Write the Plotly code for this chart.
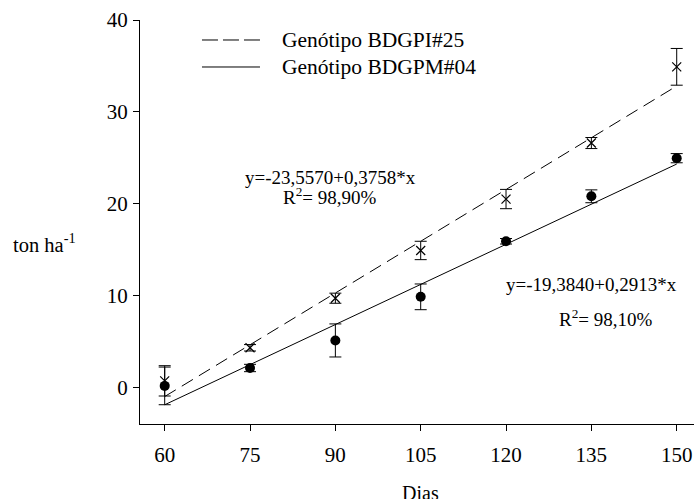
import plotly.graph_objects as go

# ---- data ----
dias = [60, 75, 90, 105, 120, 135, 150]
bdgpi25 = [0.7, 4.3, 9.7, 14.9, 20.5, 26.6, 34.9]
bdgpi25_err = [1.65, 0.35, 0.55, 1.0, 1.05, 0.6, 2.0]
bdgpm04 = [0.15, 2.1, 5.1, 9.85, 15.9, 20.8, 24.95]
bdgpm04_err = [2.05, 0.4, 1.8, 1.4, 0.3, 0.7, 0.5]

# regression coefficients printed on the chart
reg_bdgpi25 = (-23.5570, 0.3758)
reg_bdgpm04 = (-19.3840, 0.2913)
fit_x = [dias[0], dias[-1]]

x_ticks = [60, 75, 90, 105, 120, 135, 150]
y_ticks = [0, 10, 20, 30, 40]

FONT = "Liberation Serif"

fig = go.Figure()

# regression lines
fig.add_trace(go.Scatter(
    x=fit_x, y=[reg_bdgpi25[0] + reg_bdgpi25[1] * v for v in fit_x],
    mode="lines", line=dict(color="black", width=1, dash="13px,7px"),
    showlegend=False, hoverinfo="skip"))
fig.add_trace(go.Scatter(
    x=fit_x, y=[reg_bdgpm04[0] + reg_bdgpm04[1] * v for v in fit_x],
    mode="lines", line=dict(color="black", width=1),
    showlegend=False, hoverinfo="skip"))

# observed means with error bars
fig.add_trace(go.Scatter(
    x=dias, y=bdgpi25, mode="markers",
    marker=dict(symbol="x-thin", size=9, color="black",
                line=dict(color="black", width=1.2)),
    error_y=dict(type="data", array=bdgpi25_err, visible=True,
                 color="black", thickness=1, width=6),
    showlegend=False))
fig.add_trace(go.Scatter(
    x=dias, y=bdgpm04, mode="markers",
    marker=dict(symbol="circle", size=10, color="black"),
    error_y=dict(type="data", array=bdgpm04_err, visible=True,
                 color="black", thickness=1, width=6),
    showlegend=False))

# manual legend (long line samples)
legend_rows = [
    ("Genótipo BDGPI#25", "16px,5px", 0.9505),
    ("Genótipo BDGPM#04", "solid", 0.8837),
]
shapes = []
annotations = []
for label, dash, yp in legend_rows:
    shapes.append(dict(type="line", xref="paper", yref="paper",
                       x0=0.1119, x1=0.2166, y0=yp, y1=yp,
                       line=dict(color="black", width=1, dash=dash)))
    annotations.append(dict(text=label, xref="paper", yref="paper",
                            x=0.253, y=yp, xanchor="left", yanchor="middle",
                            showarrow=False,
                            font=dict(family=FONT, size=21.5, color="black")))

eq_font = dict(family=FONT, size=19, color="black")
annotations += [
    dict(text="y=-23,5570+0,3758*x", x=89.1, y=22.9, showarrow=False,
         xanchor="center", yanchor="middle", font=eq_font),
    dict(text="R<sup>2</sup>= 98,90%", x=89.1, y=20.8, showarrow=False,
         xanchor="center", yanchor="middle", font=eq_font),
    dict(text="y=-19,3840+0,2913*x", x=135.1, y=11.2, showarrow=False,
         xanchor="center", yanchor="middle", font=eq_font),
    dict(text="R<sup>2</sup>= 98,10%", x=137.5, y=7.5, showarrow=False,
         xanchor="center", yanchor="middle", font=eq_font),
    dict(text="ton ha<sup>-1</sup>", xref="paper", yref="paper",
         x=-0.233, y=0.448, xanchor="left", yanchor="middle",
         showarrow=False, font=dict(family=FONT, size=20.5, color="black")),
    dict(text="Dias", xref="paper", yref="paper",
         x=0.507, y=-0.172, xanchor="center", yanchor="middle",
         showarrow=False, font=dict(family=FONT, size=20, color="black")),
]

fig.update_layout(
    width=694, height=499,
    margin=dict(l=140, r=0, t=20, b=75),
    paper_bgcolor="white", plot_bgcolor="white",
    font=dict(family=FONT, size=21, color="black"),
    shapes=shapes, annotations=annotations,
    showlegend=False,
)
fig.update_xaxes(
    range=[55.66, 153.04], tickvals=x_ticks,
    showline=True, linecolor="black", linewidth=1,
    ticks="outside", ticklen=6, tickcolor="black", tickwidth=1,
    showgrid=False, zeroline=False, ticklabelstandoff=6,
    tickfont=dict(family=FONT, size=21, color="black"))
fig.update_yaxes(
    range=[-4, 40], tickvals=y_ticks,
    showline=True, linecolor="black", linewidth=1,
    ticks="outside", ticklen=6, tickcolor="black", tickwidth=1,
    showgrid=False, zeroline=False, ticklabelstandoff=1,
    tickfont=dict(family=FONT, size=21, color="black"))

fig.write_html("out.html",
               config={"displayModeBar": False},
               post_script="document.body.style.margin='0px';"
                           "document.body.style.padding='0px';")
